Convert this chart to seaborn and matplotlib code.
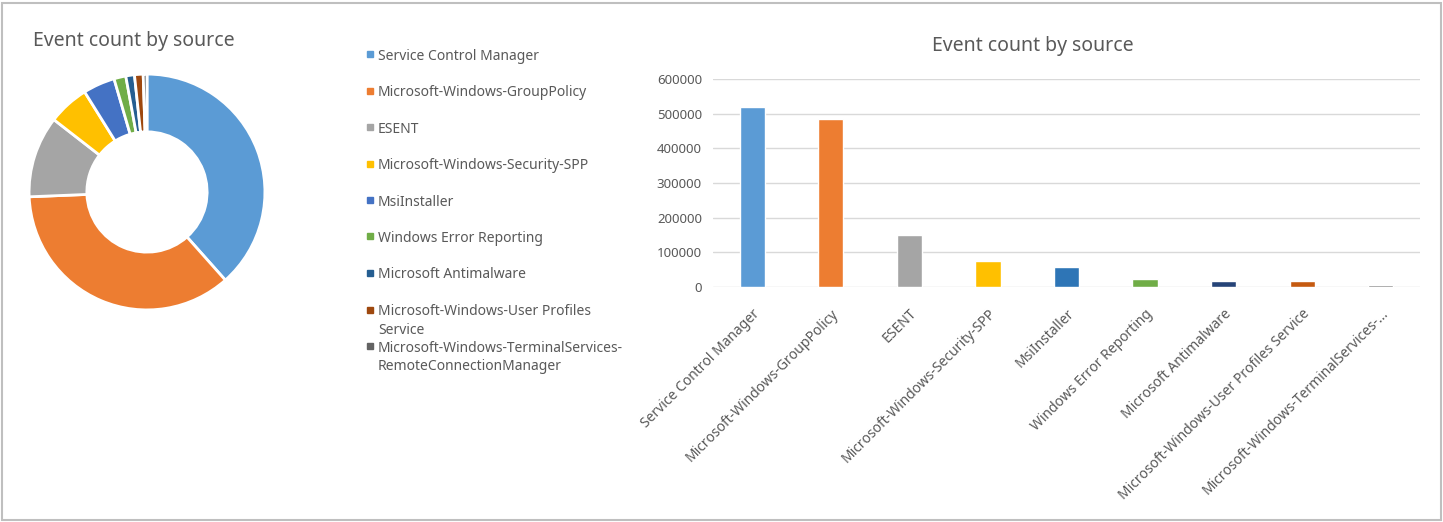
import textwrap
import matplotlib
matplotlib.use("Agg")
import matplotlib.pyplot as plt
from matplotlib.lines import Line2D
from matplotlib.patches import Rectangle
import pandas as pd
import seaborn as sns

# data
sources = [
    "Service Control Manager",
    "Microsoft-Windows-GroupPolicy",
    "ESENT",
    "Microsoft-Windows-Security-SPP",
    "MsiInstaller",
    "Windows Error Reporting",
    "Microsoft Antimalware",
    "Microsoft-Windows-User Profiles Service",
    "Microsoft-Windows-TerminalServices-RemoteConnectionManager",
]
event_counts = [520000, 486000, 151000, 76000, 59000, 22000, 16000, 16000, 7000]
y_ticks = [0, 100000, 200000, 300000, 400000, 500000, 600000]
title = "Event count by source"

pie_colors = ["#5B9BD5", "#ED7D31", "#A5A5A5", "#FFC000", "#4472C4",
              "#70AD47", "#255E91", "#9E480E", "#636363"]
bar_colors = ["#5B9BD5", "#ED7D31", "#A5A5A5", "#FFC000", "#2E75B6",
              "#70AD47", "#264478", "#C55A11", "#7F7F7F"]
text_grey = "#595959"
W, H = 1443, 522

sns.set_theme(style="white")
plt.rcParams["font.family"] = ["Noto Sans", "DejaVu Sans"]

fig = plt.figure(figsize=(W / 100, H / 100), dpi=100)

# -------------------------------------------------
# donut chart
# -------------------------------------------------
ax_pie = fig.add_axes([5.5 / W, 188.5 / H, 283 / W, 283 / H])
ax_pie.pie(event_counts, colors=pie_colors, startangle=90, counterclock=False,
           wedgeprops=dict(width=0.49, edgecolor="white", linewidth=2))
ax_pie.set_xlim(-1.2, 1.2)
ax_pie.set_ylim(-1.2, 1.2)
ax_pie.set_aspect("equal")
fig.text(33 / W, 1 - 41 / H, title, fontsize=14, color=text_grey, va="center", ha="left")

# legend, one entry per source
for i, (src, col) in enumerate(zip(sources, pie_colors)):
    yc = 1 - (54 + 36.5 * i) / H
    fig.add_artist(Line2D([370 / W], [yc], marker="s", ms=5, color=col,
                          linestyle="", transform=fig.transFigure))
    fig.text(378 / W, yc + 5.5 / H, textwrap.fill(src, 35), fontsize=10,
             color=text_grey, va="top", ha="left", linespacing=1.35)

# -------------------------------------------------
# bar chart
# -------------------------------------------------
df = pd.DataFrame({"source": sources, "events": event_counts})
ax_bar = fig.add_axes([713 / W, 235 / H, 707 / W, 208 / H])
sns.barplot(data=df, x="source", y="events", hue="source", palette=bar_colors,
            saturation=1, width=0.32, legend=False, ax=ax_bar)
ax_bar.set_ylim(0, 600000)
ax_bar.set_yticks(y_ticks)
ax_bar.set_yticklabels([str(v) for v in y_ticks], color=text_grey, fontsize=9.5)
short_labels = [s if len(s) <= 40 else s[:35] + "..." for s in sources]
ax_bar.set_xticks(range(len(sources)))
ax_bar.set_xticklabels(short_labels, rotation=45, ha="right", rotation_mode="anchor",
                       color=text_grey, fontsize=10)
ax_bar.tick_params(axis="both", length=0)
ax_bar.tick_params(axis="x", pad=14)
ax_bar.tick_params(axis="y", pad=8)
ax_bar.yaxis.grid(True, color="#D9D9D9", lw=1)
ax_bar.set_axisbelow(True)
for sp in ax_bar.spines.values():
    sp.set_visible(False)
ax_bar.set_xlabel("")
ax_bar.set_ylabel("")
fig.text(1033 / W, 1 - 46 / H, title, fontsize=14, color=text_grey, va="center", ha="center")

# outer frame
fig.add_artist(Rectangle((1.5 / W, 2 / H), 1 - 4 / W, 1 - 4.5 / H, transform=fig.transFigure,
                         fill=False, edgecolor="#BFBFBF", lw=1.5))

fig.savefig("out.png", dpi=100)
